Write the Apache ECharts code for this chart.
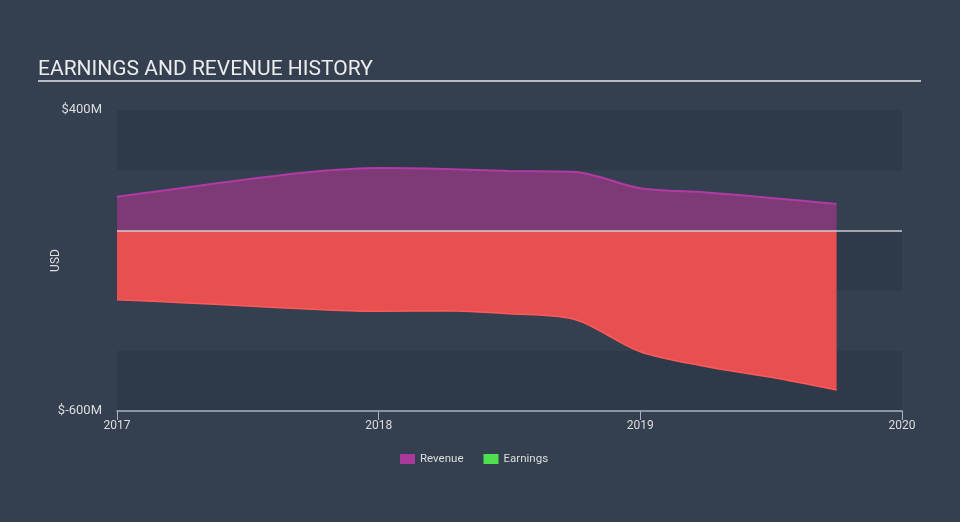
<!DOCTYPE html>
<html>
<head>
<meta charset="utf-8">
<script src="https://cdn.jsdelivr.net/npm/echarts@6/dist/echarts.min.js"></script>
<style>
html,body{margin:0;padding:0;background:#344050;}
#c{width:960px;height:522px;}
</style>
</head>
<body>
<div id="c"></div>
<script>
// Periods as decimal years (quarter points)
const periods = [2017.0, 2017.25, 2017.5, 2017.75, 2018.0, 2018.25, 2018.5, 2018.75, 2019.0, 2019.25, 2019.5, 2019.75];
// Values in $M
const revenue = [112, 141, 170, 195, 207, 204, 197, 194, 140, 126, 108, 88];
const earnings = [-230, -240, -251, -262, -269, -267, -277, -296, -403, -452, -488, -530];
const yTickLabels = {"400": "$400M", "-600": "$-600M"};
const xTicks = [2017, 2018, 2019, 2020];

const chart = echarts.init(document.getElementById('c'));
const font = 'Roboto, "Noto Sans", sans-serif';
chart.setOption({
  backgroundColor: '#344050',
  animation: false,
  title: {
    text: 'EARNINGS AND REVENUE HISTORY',
    left: 33, top: 54,
    textStyle: {color: '#ececec', fontSize: 21, fontWeight: 'normal', fontFamily: font}
  },
  graphic: [{
    type: 'line', shape: {x1: 38, y1: 81, x2: 921, y2: 81},
    style: {stroke: '#b8bcc4', lineWidth: 2}
  }],
  grid: {left: 117, right: 58, top: 110, bottom: 111},
  legend: {
    bottom: 52, left: 395,
    icon: 'rect', itemWidth: 15, itemHeight: 10, itemGap: 20,
    textStyle: {color: '#dddddd', fontSize: 11.5, fontFamily: font},
    data: [
      {name: 'Revenue', itemStyle: {color: '#a93a9c'}},
      {name: 'Earnings', itemStyle: {color: '#4ee04e'}}
    ]
  },
  xAxis: {
    type: 'value', min: xTicks[0], max: xTicks[xTicks.length - 1], interval: 1,
    axisLine: {onZero: false, lineStyle: {color: '#a9b2bf', width: 1.5}},
    axisTick: {show: true, length: 9, lineStyle: {color: '#a9b2bf'}},
    axisLabel: {color: '#dddddd', fontSize: 12, fontFamily: font, margin: 9, formatter: v => String(v)},
    splitLine: {show: false}
  },
  yAxis: {
    type: 'value', min: -600, max: 400, interval: 200,
    name: 'USD', nameLocation: 'middle', nameGap: 55, nameRotate: 90, nameMoveOverlap: false,
    nameTextStyle: {color: '#dddddd', fontSize: 12, fontFamily: font},
    axisLine: {show: false}, axisTick: {show: false},
    axisLabel: {color: '#dddddd', fontSize: 13, fontFamily: font, margin: 15,
      formatter: v => yTickLabels[String(v)] || ''},
    splitLine: {show: false},
    splitArea: {show: true, areaStyle: {color: ['#2e3a4a', '#344050']}}
  },
  series: [
    {
      name: 'Revenue', type: 'line', smooth: 0.3, symbol: 'none',
      data: periods.map((p, i) => [p, revenue[i]]),
      lineStyle: {color: '#b23aa4', width: 2},
      itemStyle: {color: '#a93a9c'},
      areaStyle: {color: '#7d3a77', opacity: 1},
      z: 2
    },
    {
      name: 'Earnings', type: 'line', smooth: 0.3, symbol: 'none',
      data: periods.map((p, i) => [p, earnings[i]]),
      lineStyle: {color: '#ff5a5a', width: 1.5},
      itemStyle: {color: '#4ee04e'},
      areaStyle: {color: '#e84f51', opacity: 1},
      markLine: {
        silent: true, symbol: 'none', label: {show: false},
        lineStyle: {color: '#c8ccd2', width: 1.5, type: 'solid'},
        data: [{yAxis: 0}]
      },
      z: 3
    }
  ]
});
</script>
</body>
</html>
